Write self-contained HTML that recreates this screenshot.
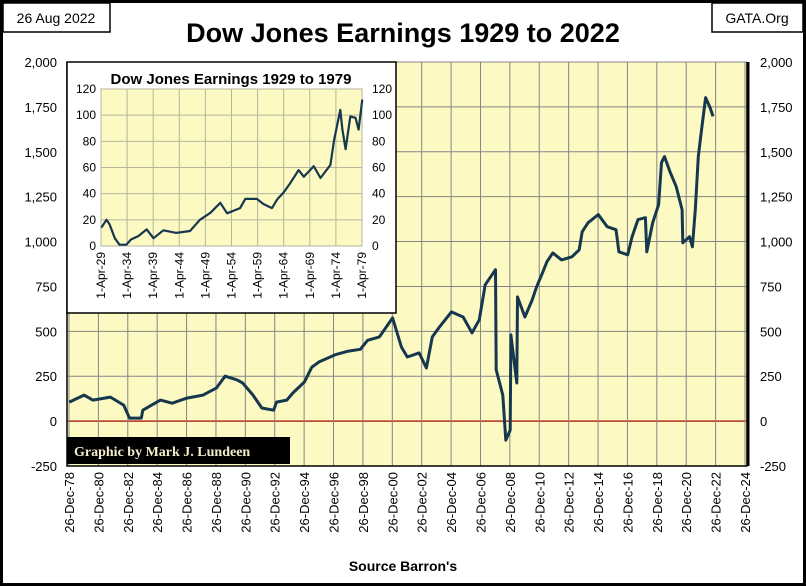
<!DOCTYPE html>
<html><head><meta charset="utf-8"><style>
body{margin:0;background:#fff}
svg{display:block;font-family:"Liberation Sans",sans-serif}
</style></head><body>
<svg id="c" width="806" height="586" viewBox="0 0 806 586">
<rect x="1.5" y="1.5" width="803" height="583" fill="#fff" stroke="#000" stroke-width="3"/>
<rect x="3" y="3" width="107" height="29" fill="#fff" stroke="#000" stroke-width="1.5"/>
<text x="56" y="23" font-size="14" text-anchor="middle">26 Aug 2022</text>
<rect x="712" y="3" width="91" height="29" fill="#fff" stroke="#000" stroke-width="1.5"/>
<text x="757" y="23" font-size="14" text-anchor="middle">GATA.Org</text>
<text x="403" y="42" font-size="27" font-weight="bold" text-anchor="middle">Dow Jones Earnings 1929 to 2022</text>
<g id="main"></g>
<g id="inset"></g>
<text x="403" y="571" font-size="14" font-weight="bold" text-anchor="middle">Source Barron's</text>
</svg>
<script>
const mainYears=[1979,1980,1980.6,1981.8,1982.7,1983.1,1983.9,1984,1985.2,1986,1987,1988.1,1989,1989.6,1990.4,1990.8,1991.5,1992.1,1992.9,1993.1,1993.8,1994.2,1995,1995.5,1996,1997.1,1998,1998.8,1999.3,2000.1,2001,2001.6,2002,2002.8,2003.3,2003.7,2004.2,2005,2005.8,2006.4,2006.9,2007.3,2008,2008.05,2008.5,2008.7,2009,2009.05,2009.45,2009.5,2010,2010.5,2010.8,2011.2,2011.5,2011.9,2012.5,2013.2,2013.7,2013.9,2014.3,2015,2015.6,2016.2,2016.4,2017,2017.3,2017.7,2018.2,2018.3,2018.7,2019.1,2019.3,2019.5,2019.9,2020.3,2020.7,2020.75,2021.2,2021.4,2021.6,2021.8,2022,2022.3,2022.6,2022.8];
const mainVals=[106,145,117,134,89,17,17,61,117,100,128,145,184,250,230,212,145,73,61,106,117,156,218,300,330,370,390,400,450,469,575,413,357,380,296,469,525,608,580,491,564,759,843,285,145,-106,-50,480,212,692,580,675,748,826,887,937,898,915,954,1055,1105,1150,1083,1066,943,926,1027,1122,1133,943,1105,1205,1440,1473,1384,1306,1177,993,1027,971,1177,1473,1607,1802,1747,1697];
const mainTicks=[-250,0,250,500,750,1000,1250,1500,1750,2000];
const mainTickLabels=["-250","0","250","500","750","1,000","1,250","1,500","1,750","2,000"];
const xTickYears=[];for(let y=78;y<=124;y+=2)xTickYears.push(y);
const insetYears=[1929.3,1930.3,1930.9,1931.9,1932.8,1934.1,1935,1936.4,1938,1939.3,1941.2,1943.7,1946.3,1948.2,1950.2,1952.1,1953.4,1955.9,1956.9,1959.1,1960.4,1962,1963,1964.2,1965.5,1967.1,1968.1,1970,1971.3,1973.2,1973.9,1975.1,1975.5,1976.1,1977,1978,1978.6,1979.3];
const insetVals=[14,20,16.5,6,1,1,5,7.6,12.7,6,12,10,11.5,20,25.4,33,25,29,36,36,32,29,35.6,40.7,48,58,53,61,52,62,81,104,89,74,99,98,89,112];
const insetTicks=[0,20,40,60,80,100,120];
const insetXLabels=["1-Apr-29","1-Apr-34","1-Apr-39","1-Apr-44","1-Apr-49","1-Apr-54","1-Apr-59","1-Apr-64","1-Apr-69","1-Apr-74","1-Apr-79"];

const NS="http://www.w3.org/2000/svg";
function mk(p,t,a,txt){const e=document.createElementNS(NS,t);for(const k in a)e.setAttribute(k,a[k]);if(txt!=null)e.textContent=txt;p.appendChild(e);return e;}
const L=67,R=747,T=62,B=466;
const xs=y=>L+2+(y-1978.98)*(676/46);
const ys=v=>T+(2000-v)*(B-T)/2250;
const g=document.getElementById('main');
let bg=mk(g,'rect',{x:L,y:T,width:R-L,height:B-T,fill:'#fdf9c2'});


mainTicks.forEach((v,i)=>{
 let ln=mk(g,'line',{x1:L,x2:R,y1:ys(v),y2:ys(v),stroke:v===0?'#b03020':'#858585','stroke-width':v===0?1.5:1});
 
 
 let t1=mk(g,'text',{x:57,y:ys(v)+5,'font-size':13,'text-anchor':'end'},mainTickLabels[i]);
 
 
 let t2=mk(g,'text',{x:760,y:ys(v)+5,'font-size':13},mainTickLabels[i]);
 
 
});
xTickYears.forEach(y=>{
 const x=xs(1978.98+(y-78));
 let ln=mk(g,'line',{x1:x,x2:x,y1:T,y2:B,stroke:'#858585','stroke-width':1});
 
 
 const lab='26-Dec-'+String(y%100).padStart(2,'0');
 let t=mk(g,'text',{x:0,y:0,'font-size':13,'text-anchor':'end',transform:`translate(${x+5},472) rotate(-90)`},lab);
 
 
});
let ax=mk(g,'path',{d:`M${L},${T}V${B}H${R}V${T}`,fill:'none',stroke:'#000','stroke-width':1.5});


mk(g,'line',{x1:R+1,x2:R+1,y1:T,y2:B,stroke:'#000','stroke-width':3});
let d=mainYears.map((y,i)=>(i?'L':'M')+xs(y).toFixed(1)+','+ys(mainVals[i]).toFixed(1)).join('');
let ml=mk(g,'path',{d,fill:'none',stroke:'#16384e','stroke-width':3,'stroke-linejoin':'round'});


let cb=mk(g,'rect',{x:L,y:437,width:223,height:27,fill:'#000'});


let ct=mk(g,'text',{x:74,y:456,'font-size':14,'font-weight':'bold',fill:'#f3ecc8','font-family':'Liberation Serif,serif'},'Graphic by Mark J. Lundeen');


const gi=document.getElementById('inset');
const IL=101,IR=362,IT=89,IB=246;
const ixs=y=>IL+(y-1929.25)*(IR-IL)/50;
const iys=v=>IB-v*(IB-IT)/120;
let ib=mk(gi,'rect',{x:67,y:62,width:329,height:251,fill:'#fff',stroke:'#000','stroke-width':1.5});


let it=mk(gi,'text',{x:231,y:84,'font-size':15,'font-weight':'bold','text-anchor':'middle'},'Dow Jones Earnings 1929 to 1979');


let ipa=mk(gi,'rect',{x:IL,y:IT,width:IR-IL,height:IB-IT,fill:'#fdf9c2',stroke:'#999'});


insetTicks.forEach(v=>{
 let ln=mk(gi,'line',{x1:IL,x2:IR,y1:iys(v),y2:iys(v),stroke:'#b5b5a0'});
 
 
 let a=mk(gi,'text',{x:96,y:iys(v)+4,'font-size':12,'text-anchor':'end'},String(v));
 
 
 let b=mk(gi,'text',{x:372,y:iys(v)+4,'font-size':12},String(v));
 
 
});
insetXLabels.forEach((lab,i)=>{
 const x=ixs(1929.25+i*5);
 let ln=mk(gi,'line',{x1:x,x2:x,y1:IT,y2:IB,stroke:'#b5b5a0'});
 
 
 let t=mk(gi,'text',{x:0,y:0,'font-size':12,'text-anchor':'end',transform:`translate(${x+4},252) rotate(-90)`},lab);
 
 
});
let d2=insetYears.map((y,i)=>(i?'L':'M')+ixs(y).toFixed(1)+','+iys(insetVals[i]).toFixed(1)).join('');
let il=mk(gi,'path',{d:d2,fill:'none',stroke:'#16384e','stroke-width':2.2,'stroke-linejoin':'round'});


</script>
</body></html>
